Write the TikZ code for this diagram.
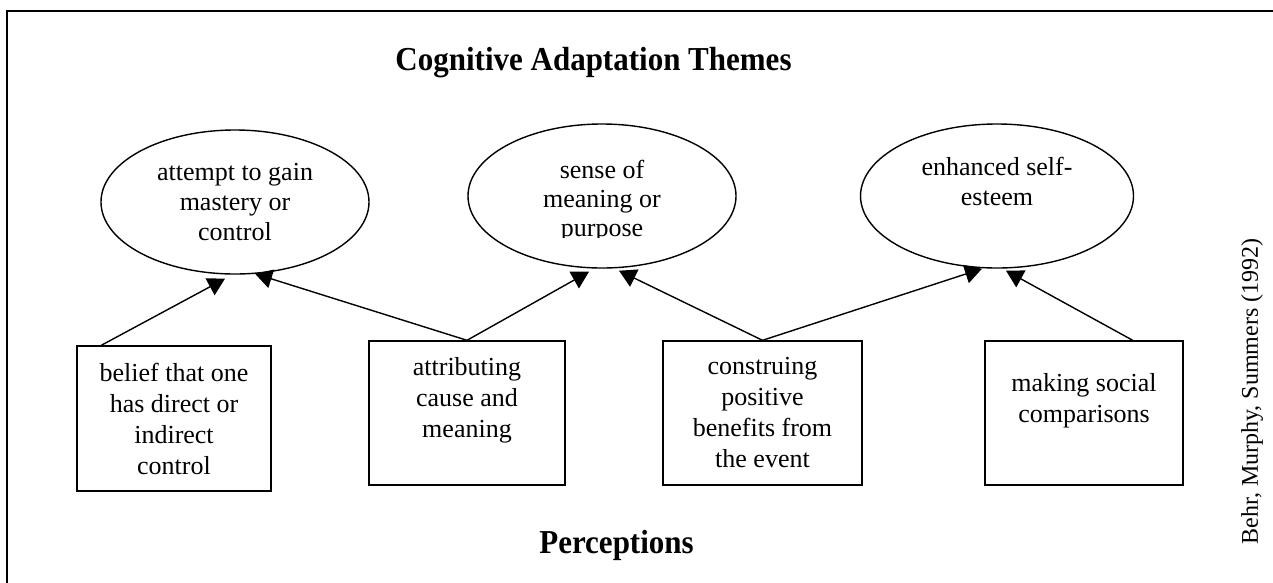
\documentclass[tikz,border=0pt]{standalone}
\usepackage{fontspec}
\setmainfont{Liberation Serif}
\usetikzlibrary{arrows.meta,shapes.geometric}
\begin{document}
\begin{tikzpicture}[x=1pt,y=-1pt,
  ell/.style={draw,ellipse,line width=1.4pt,minimum width=268pt,minimum height=144pt,inner sep=0pt,align=center,font=\fontsize{26}{30}\selectfont},
  elltext/.style={inner sep=0pt,align=center,font=\fontsize{26}{29}\selectfont},
  pbox/.style={draw,rectangle,line width=1.4pt,minimum height=144pt,inner sep=0pt,align=center,font=\fontsize{26}{31}\selectfont},
  arr/.style={line width=1.4pt,-{Triangle[length=17pt,width=19pt]}},
  heading/.style={anchor=base,font=\bfseries\fontsize{31}{36}\selectfont},
  frameline/.style={line width=1.6pt}
]
\useasboundingbox (0,0) rectangle (1273,582);
\clip (0,0) rectangle (1273,582);
\draw[frameline] (7,11) rectangle (1300,610);

\node[heading,yscale=1.08] (title) at (593.5,70) {Cognitive Adaptation Themes};
\node[heading,yscale=1.08] (perc) at (616.5,553) {Perceptions};

\node[ell] (e1) at (235,202) {attempt to gain\\mastery or\\control};
\node[ell] (e2) at (602,196) {};
\begin{scope}
  \clip (450,120) rectangle (760,237);
  \node[elltext] (t2) at (602,201) {sense of\\meaning or\\purpose};
\end{scope}
\node[ell,minimum width=273pt] (e3) at (997,196) {enhanced self-\\esteem\\\mbox{}};

\node[pbox,minimum width=194pt,minimum height=145pt] (b1) at (174,418.5) {belief that one\\has direct or\\indirect\\control};
\node[pbox,minimum width=196pt] (b2) at (467,413) {attributing\\cause and\\meaning\\\mbox{}};
\node[pbox,minimum width=199pt] (b3) at (762.5,413) {construing\\positive\\benefits from\\the event};
\node[pbox,minimum width=198pt] (b4) at (1084,413) {making social\\comparisons\\\mbox{}};

\node[rotate=90,inner sep=0pt,font=\fontsize{24}{28}\selectfont] (src) at (1252,391.5) {Behr, Murphy, Summers (1992)};

\draw[arr] ([xshift=25pt]b1.north west) -- ([xshift=-10pt,yshift=-4pt]e1.south);
\draw[arr] (b2.north) -- ([xshift=20pt,yshift=1pt]e1.south);
\draw[arr] (b2.north) -- ([xshift=-13pt,yshift=-3pt]e2.south);
\draw[arr] (b3.north) -- ([xshift=17pt,yshift=-2pt]e2.south);
\draw[arr] (b3.north) -- ([xshift=-15pt]e3.south);
\draw[arr] ([xshift=-51pt]b4.north east) -- ([xshift=9pt,yshift=-2pt]e3.south);
\end{tikzpicture}
\end{document}
